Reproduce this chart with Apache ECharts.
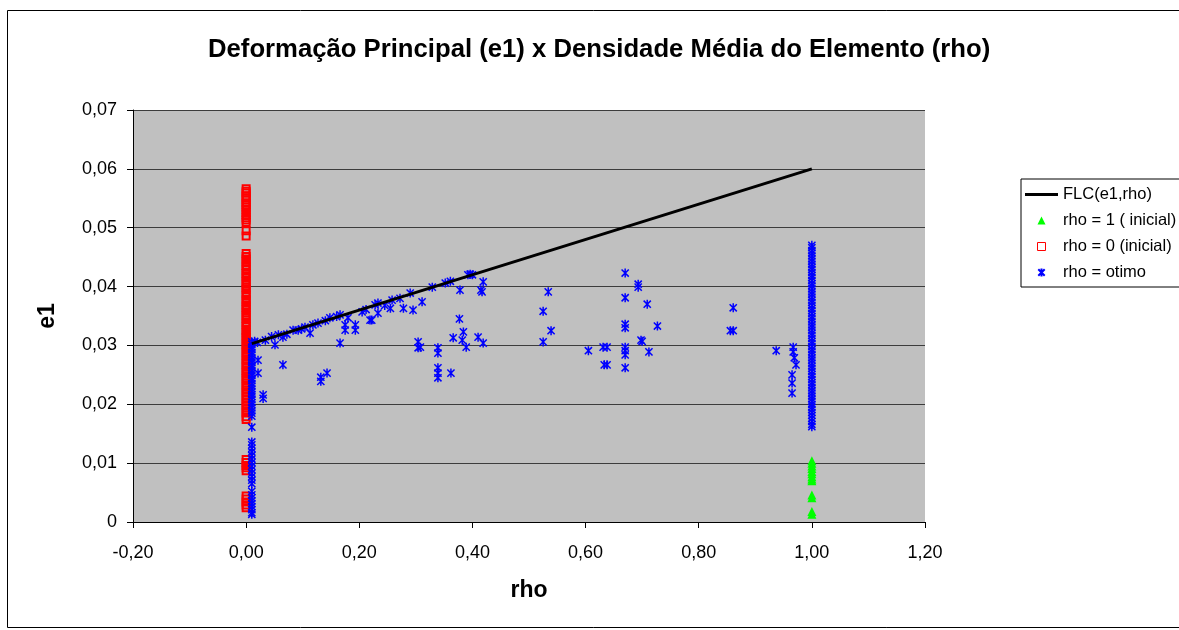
<!DOCTYPE html>
<html>
<head>
<meta charset="utf-8">
<script src="https://cdn.jsdelivr.net/npm/echarts@6/dist/echarts.min.js"></script>
<style>
html, body { margin: 0; padding: 0; background: #ffffff; }
#chart { width: 1179px; height: 630px; }
</style>
</head>
<body>
<div id="chart"></div>
<script>
// FLC limit curve (e1 as a function of rho)
const flcRho = [0.01, 1.0];
const flcE1 = [0.0303, 0.06];

// rho = 1 (initial): all elements at rho = 1
const ini1Rho = 1.0;
const ini1E1 = [0.0104, 0.0100, 0.0095, 0.0091, 0.0086, 0.0082, 0.0077, 0.0073, 0.0070, 0.0046, 0.0041, 0.0018, 0.0013];

// rho = 0 (initial): all elements at rho = 0
const ini0Rho = 0.0;
const ini0E1 = [
  0.0566, 0.0562, 0.0559, 0.0554, 0.0551, 0.0547, 0.0542, 0.0539, 0.0535, 0.0531, 0.0526, 0.0522, 0.0517, 0.0513, 0.0509,
  0.0495, 0.0486,
  0.0456, 0.0451, 0.0447, 0.0442, 0.0436, 0.0433, 0.0428, 0.0422, 0.0418, 0.0414, 0.0408, 0.0404, 0.0399, 0.0395, 0.0389,
  0.0385, 0.0379, 0.0375, 0.0369, 0.0365, 0.0361, 0.0355, 0.0351, 0.0346, 0.0340, 0.0336, 0.0332, 0.0326, 0.0322, 0.0317,
  0.0313, 0.0307, 0.0302, 0.0298, 0.0292, 0.0288, 0.0283, 0.0277, 0.0273, 0.0268, 0.0263, 0.0258, 0.0254, 0.0248, 0.0244,
  0.0239, 0.0233, 0.0229, 0.0224, 0.0219, 0.0214, 0.0209, 0.0204, 0.0199, 0.0194, 0.0189, 0.0185, 0.0179, 0.0174,
  0.0106, 0.0101, 0.0096, 0.0092, 0.0087,
  0.0044, 0.0039, 0.0034, 0.0029, 0.0024
];

// rho = otimo: column of elements near rho = 0.01
const optColLowRho = 0.01;
const optColLowE1 = [
  0.0306, 0.0302, 0.0297, 0.0293, 0.0288, 0.0284, 0.0279, 0.0275, 0.0271, 0.0266, 0.0262, 0.0257, 0.0253, 0.0249,
  0.0244, 0.0240, 0.0235, 0.0231, 0.0226, 0.0221, 0.0217, 0.0213, 0.0208, 0.0203, 0.0199, 0.0194, 0.0189, 0.0185, 0.0180,
  0.0161, 0.0136, 0.0131, 0.0125, 0.0119, 0.0113, 0.0107, 0.0101, 0.0095, 0.0089, 0.0083, 0.0077, 0.0071, 0.0065,
  0.0052, 0.0046, 0.0041, 0.0036, 0.0031, 0.0026, 0.0021, 0.0016, 0.0013
];

// rho = otimo: column of elements at rho = 1
const optColHighRho = 1.0;
const optColHighE1 = [
  0.0470, 0.0466, 0.0461, 0.0457, 0.0452, 0.0447, 0.0443, 0.0438, 0.0433, 0.0429, 0.0424, 0.0419, 0.0415, 0.0410,
  0.0405, 0.0401, 0.0396, 0.0391, 0.0387, 0.0382, 0.0377, 0.0373, 0.0368, 0.0363, 0.0359, 0.0354, 0.0349, 0.0345,
  0.0340, 0.0335, 0.0331, 0.0326, 0.0321, 0.0317, 0.0312, 0.0307, 0.0303, 0.0298, 0.0293, 0.0289, 0.0284, 0.0279,
  0.0275, 0.0270, 0.0265, 0.0261, 0.0256, 0.0251, 0.0247, 0.0242, 0.0237, 0.0233, 0.0228, 0.0223, 0.0219, 0.0214,
  0.0209, 0.0205, 0.0200, 0.0195, 0.0191, 0.0186, 0.0181, 0.0176, 0.0171, 0.0166, 0.0162
];

// rho = otimo: intermediate densities
const optRho = [
  0.015, 0.020, 0.034, 0.045, 0.051, 0.057, 0.065, 0.072, 0.083, 0.092, 0.098, 0.104, 0.113, 0.118, 0.127, 0.140,
  0.148, 0.160, 0.166, 0.175, 0.175, 0.180, 0.193, 0.193, 0.205, 0.212, 0.219, 0.166, 0.065, 0.132, 0.132, 0.143,
  0.030, 0.030, 0.021, 0.021,
  0.228, 0.233, 0.233, 0.222, 0.245, 0.255, 0.258, 0.272, 0.278, 0.290, 0.295, 0.311, 0.329, 0.352, 0.361, 0.378,
  0.392, 0.396, 0.400, 0.419, 0.417, 0.415, 0.377, 0.384, 0.366, 0.382, 0.389, 0.410, 0.419, 0.304, 0.304, 0.308,
  0.339, 0.339, 0.339, 0.339, 0.339, 0.362,
  0.534, 0.525, 0.539, 0.525, 0.605, 0.631, 0.638, 0.633, 0.638, 0.670, 0.670, 0.670, 0.670, 0.670, 0.670, 0.670,
  0.670, 0.693, 0.693, 0.709, 0.727, 0.698, 0.700, 0.712, 0.861, 0.856, 0.861,
  0.937, 0.967, 0.967, 0.969, 0.972, 0.965, 0.965, 0.965
];
const optE1 = [
  0.0307, 0.0305, 0.0309, 0.0315, 0.0301, 0.0318, 0.0314, 0.0319, 0.0326, 0.0326, 0.0328, 0.0331, 0.0321, 0.0335, 0.0338, 0.0342,
  0.0347, 0.0349, 0.0352, 0.0335, 0.0326, 0.0347, 0.0335, 0.0326, 0.0357, 0.0361, 0.0343, 0.0304, 0.0267, 0.0246, 0.0239, 0.0253,
  0.0216, 0.0210, 0.0275, 0.0253,
  0.0369, 0.0372, 0.0355, 0.0343, 0.0368, 0.0363, 0.0377, 0.0380, 0.0363, 0.0389, 0.0360, 0.0374, 0.0399, 0.0406, 0.0409, 0.0394,
  0.0420, 0.0421, 0.0420, 0.0408, 0.0391, 0.0394, 0.0345, 0.0323, 0.0313, 0.0309, 0.0297, 0.0314, 0.0304, 0.0306, 0.0296, 0.0297,
  0.0296, 0.0287, 0.0262, 0.0253, 0.0245, 0.0253,
  0.0391, 0.0358, 0.0325, 0.0306, 0.0291, 0.0297, 0.0297, 0.0267, 0.0267, 0.0423, 0.0381, 0.0336, 0.0330, 0.0297, 0.0291, 0.0284,
  0.0262, 0.0404, 0.0399, 0.0370, 0.0333, 0.0309, 0.0307, 0.0289, 0.0364, 0.0325, 0.0325,
  0.0291, 0.0297, 0.0289, 0.0279, 0.0267, 0.0250, 0.0236, 0.0219
];

// axis ranges
const rhoMin = -0.2, rhoMax = 1.2, rhoStep = 0.2;
const e1Min = 0, e1Max = 0.07, e1Step = 0.01;

const FONT = 'Liberation Sans, Arial, sans-serif';
const FONT_NARROW = 'Liberation Sans Narrow, Arial Narrow, Liberation Sans, sans-serif';
const comma = v => v.toFixed(2).replace('.', ',');

const flcData = flcRho.map((r, i) => [r, flcE1[i]]);
const ini1Data = ini1E1.map(e => [ini1Rho, e]);
const ini0Data = ini0E1.map(e => [ini0Rho, e]);
const optData = []
  .concat(optColLowE1.map(e => [optColLowRho, e]))
  .concat(optColHighE1.map(e => [optColHighRho, e]))
  .concat(optRho.map((r, i) => [r, optE1[i]]));

// marker shapes (paths keep their aspect inside the legend icon box)
const ASTERISK = 'path://M0,0L8,8M8,0L0,8M4,-1L4,9';
const LINE_ICON = 'path://M0,0L33,0L33,3L0,3Z';
const TRIANGLE_ICON = 'path://M4,0L8,8L0,8Z';
const SQUARE_ICON = 'path://M0,0L7,0L7,7L0,7Z';

const chart = echarts.init(document.getElementById('chart'), null, { renderer: 'canvas' });
chart.setOption({
  backgroundColor: '#ffffff',
  animation: false,
  title: {
    text: 'Deformação Principal (e1) x Densidade Média do Elemento (rho)',
    left: 208,
    top: 37,
    padding: 0,
    textStyle: { fontFamily: FONT, fontSize: 25.7, fontWeight: 'bold', color: '#000' }
  },
  graphic: [{
    type: 'rect',
    shape: { x: 7.5, y: 10.5, width: 1200, height: 617 },
    style: { fill: 'none', stroke: '#000', lineWidth: 1 },
    silent: true
  }],
  grid: {
    left: 133, right: 254, top: 110, bottom: 108,
    show: true, backgroundColor: '#c0c0c0', borderWidth: 0
  },
  legend: {
    orient: 'vertical',
    left: 1021, top: 179,
    padding: [7, 8, 6, 4],
    itemGap: 9,
    itemWidth: 33, itemHeight: 8,
    symbolKeepAspect: true,
    backgroundColor: '#ffffff',
    borderColor: '#000', borderWidth: 1,
    textStyle: { fontFamily: FONT, fontSize: 16.5, color: '#000' },
    data: [
      { name: 'FLC(e1,rho)', icon: LINE_ICON, itemStyle: { color: '#000', borderWidth: 0 } },
      { name: 'rho = 1 ( inicial)', icon: TRIANGLE_ICON },
      { name: 'rho = 0 (inicial)', icon: SQUARE_ICON, itemStyle: { borderWidth: 1 } },
      { name: 'rho = otimo' }
    ]
  },
  xAxis: {
    type: 'value',
    min: rhoMin, max: rhoMax, interval: rhoStep,
    name: 'rho', nameLocation: 'middle', nameGap: 57,
    nameTextStyle: { fontFamily: FONT, fontSize: 23, fontWeight: 'bold', color: '#000' },
    axisLine: { show: true, onZero: false, lineStyle: { color: '#000', width: 1 } },
    axisTick: { show: true, inside: false, length: 6, lineStyle: { color: '#000' } },
    axisLabel: { margin: 22, fontFamily: FONT_NARROW, fontSize: 18, color: '#000', formatter: comma },
    splitLine: { show: false }
  },
  yAxis: {
    type: 'value',
    min: e1Min, max: e1Max, interval: e1Step,
    name: 'e1', nameLocation: 'middle', nameGap: 74,
    nameTextStyle: { fontFamily: FONT, fontSize: 23, fontWeight: 'bold', color: '#000' },
    axisLine: { show: true, onZero: false, lineStyle: { color: '#000', width: 1 } },
    axisTick: { show: true, inside: false, length: 6, lineStyle: { color: '#000' } },
    axisLabel: { margin: 16, fontFamily: FONT, fontSize: 18, color: '#000',
      formatter: v => (v === 0 ? '0' : comma(v)) },
    splitLine: { show: true, lineStyle: { color: '#3c3c3c', width: 1 } }
  },
  series: [
    {
      name: 'FLC(e1,rho)', type: 'line', data: flcData,
      symbol: 'none', z: 5,
      lineStyle: { color: '#000', width: 3 },
      itemStyle: { color: '#000' }
    },
    {
      name: 'rho = 1 ( inicial)', type: 'scatter', data: ini1Data,
      symbol: 'triangle', symbolSize: 9,
      itemStyle: { color: '#00ff00', opacity: 1 }
    },
    {
      name: 'rho = 0 (inicial)', type: 'scatter', data: ini0Data,
      symbol: 'rect', symbolSize: 7,
      itemStyle: { color: 'rgba(0,0,0,0)', borderColor: '#ff0000', borderWidth: 2, opacity: 1 }
    },
    {
      name: 'rho = otimo', type: 'scatter', data: optData,
      symbol: ASTERISK, symbolSize: 9, symbolKeepAspect: true,
      itemStyle: { color: '#0000ff', borderColor: '#0000ff', borderWidth: 1.5, opacity: 1 }
    }
  ]
});
</script>
</body>
</html>
